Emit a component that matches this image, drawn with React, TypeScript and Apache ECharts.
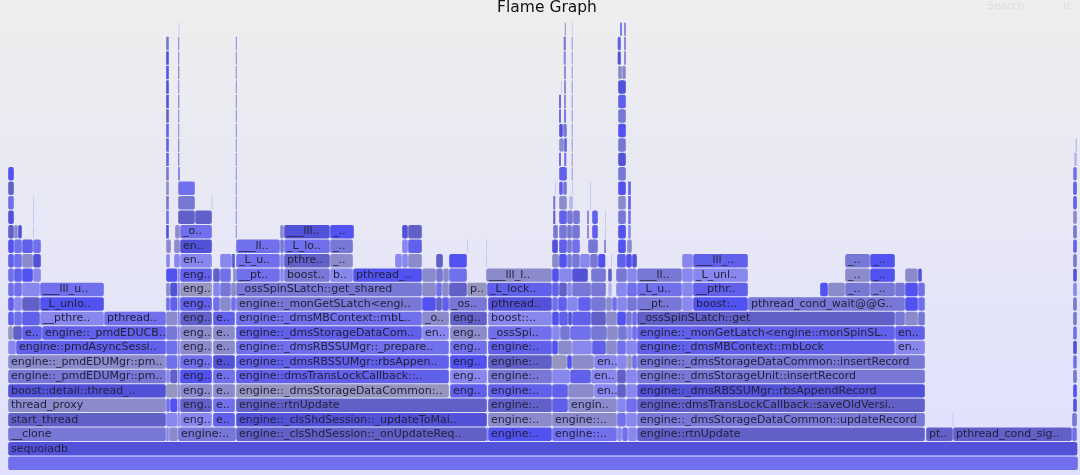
import React, { useEffect, useRef } from "react";
import * as echarts from "echarts";

type Frame = [number, number, string, string];

const palette: Record<string, string> = {
  a: "#5252f0",
  b: "#6060ea",
  c: "#7070ec",
  d: "#8787ee",
  e: "#5252d8",
  f: "#6060c8",
  g: "#7777d6",
  h: "#8b8bcc",
  i: "#9595bd",
  l: "#b4b4f2",
};

const level00: Frame[] = [[8, 1078, "", "c"]];
const level01: Frame[] = [[8, 1077.5, "sequoiadb", "e"]];
const level02: Frame[] = [
  [8, 166, "__clone", "g"], [166, 169, "", "d"], [169, 178, "", "h"], [178, 236, "engine:..", "g"],
  [236, 487, "engine::_clsShdSession::_onUpdateReq..", "f"], [487, 488, "", "a"], [488, 552, "engine:..", "a"],
  [552, 617, "engine::..", "c"], [617, 622, "", "d"], [622, 628, "", "c"], [628, 637, "", "d"],
  [637, 925, "engine::rtnUpdate", "f"], [926, 953, "pt..", "f"], [953, 1072, "pthread_cond_sig..", "f"], [1072, 1077, "", "c"],
];
const level03: Frame[] = [
  [8, 166, "start_thread", "f"], [166, 177.5, "", "d"], [177.5, 180, "", "d"], [180, 212, "eng..", "d"], [213, 235, "e..", "b"],
  [236, 487, "engine::_clsShdSession::_updateToMai..", "e"], [488, 552, "engine:..", "h"], [552, 617, "engine::..", "h"],
  [617, 626, "", "c"], [626, 637, "", "d"], [637, 925, "engine::_dmsStorageDataCommon::updateRecord", "g"],
  [952.5, 953.5, "", "l"], [1072, 1077, "", "g"],
];
const level04: Frame[] = [
  [8, 166, "thread_proxy", "h"], [166, 170, "", "c"], [170, 177.5, "", "a"], [177.5, 180, "", "d"], [180, 212, "eng..", "f"], [213, 235, "e..", "c"],
  [236, 487, "engine::rtnUpdate", "f"], [488, 552, "engine:..", "f"], [552, 568, "", "b"], [568, 617, "engin..", "h"],
  [617, 626, "", "d"], [626, 637, "", "c"], [637, 925, "engine::dmsTransLockCallback::saveOldVersi..", "f"], [1073, 1077, "", "e"],
];
const level05: Frame[] = [
  [8, 166, "boost::detail::thread_..", "e"], [166, 177.5, "", "i"], [177.5, 180, "", "h"], [180, 212, "eng..", "h"], [213, 235, "e..", "h"],
  [236, 449, "engine::_dmsStorageDataCommon:..", "i"], [450, 487, "eng..", "b"], [488, 552, "engine:..", "b"],
  [552, 568, "", "b"], [568, 594, "", "h"], [594, 617, "en..", "d"], [617, 626, "", "f"], [626, 637, "", "d"],
  [637, 925, "engine::_dmsRBSSUMgr::rbsAppendRecord", "e"], [1073, 1077, "", "a"],
];
const level06: Frame[] = [
  [8, 166, "engine::_pmdEDUMgr::pm..", "g"], [166, 170, "", "d"], [170, 177.5, "", "f"], [177.5, 180, "", "d"], [180, 212, "eng..", "a"], [213, 235, "e..", "c"],
  [236, 449, "engine::dmsTransLockCallback::..", "b"], [450, 487, "eng..", "d"], [488, 552, "engine:..", "g"],
  [552, 570, "", "d"], [570, 591, "", "b"], [591, 617, "en..", "d"], [617, 626, "", "f"], [626, 637, "", "d"],
  [637, 925, "engine::_dmsStorageUnit::insertRecord", "g"], [1073, 1077, "", "g"],
];
const level07: Frame[] = [
  [8, 166, "engine::_pmdEDUMgr::pm..", "h"], [166, 177.5, "", "c"], [177.5, 180, "", "d"], [180, 212, "eng..", "c"], [213, 235, "e..", "e"],
  [236, 449, "engine::_dmsRBSSUMgr::rbsAppen..", "b"], [450, 487, "eng..", "a"], [488, 552, "engine:..", "f"],
  [552, 567, "", "i"], [567, 572, "", "a"], [572, 594, "", "h"], [594, 617, "en..", "d"], [617, 627, "", "d"], [627, 632, "", "i"], [632, 637, "", "c"],
  [637, 925, "engine::_dmsStorageDataCommon::insertRecord", "g"], [1073, 1077, "", "c"],
];
const level08: Frame[] = [
  [8, 16, "", "d"], [16, 166, "engine::pmdAsyncSessi..", "b"], [166, 177.5, "", "c"], [177.5, 180, "", "d"], [180, 212, "eng..", "h"], [213, 235, "e..", "h"],
  [236, 449, "engine::_dmsRBSSUMgr::_prepare..", "c"], [450, 487, "eng..", "c"], [488, 552, "engine:..", "b"],
  [552, 558, "", "a"], [558, 572, "", "h"], [572, 592, "", "d"], [592, 606, "", "b"], [606, 617, "", "h"], [617, 626, "", "c"], [626, 637, "", "d"],
  [637, 895, "engine::_dmsMBContext::mbLock", "b"], [895, 925, "en..", "d"], [1073, 1077, "", "e"],
];
const level09: Frame[] = [
  [8, 13, "", "i"], [13, 22, "", "f"], [22, 42, "e..", "b"], [42, 166, "engine::_pmdEDUCB..", "b"], [166, 177.5, "", "g"], [177.5, 180, "", "d"], [180, 212, "eng..", "h"], [213, 235, "e..", "h"],
  [236, 422, "engine::_dmsStorageDataCom..", "b"], [422, 449, "en..", "d"], [450, 487, "eng..", "h"], [488, 552, "_ossSpi..", "c"],
  [552, 560, "", "d"], [560, 570, "", "g"], [570, 591, "", "c"], [591, 607, "", "g"], [607, 618, "", "h"], [618, 627, "", "g"], [627, 632, "", "d"], [632, 637, "", "c"],
  [637, 895, "engine::_monGetLatch<engine::monSpinSL..", "b"], [895, 925, "en..", "b"], [1073, 1077, "", "c"],
];
const level10: Frame[] = [
  [8, 14, "", "b"], [14, 22, "", "c"], [22, 40, "", "b"], [40, 104, "__pthre..", "d"], [104, 166, "pthread..", "c"], [166, 177.5, "", "h"], [177.5, 180, "", "d"], [180, 212, "eng..", "f"], [213, 235, "e..", "b"],
  [236, 422, "engine::_dmsMBContext::mbL..", "c"], [422, 449, "_o..", "h"], [450, 487, "eng..", "f"], [488, 552, "boost::..", "d"],
  [552, 559, "", "a"], [559, 568, "", "b"], [568, 572, "", "e"], [572, 591, "", "b"], [591, 606, "", "f"], [606, 617, "", "h"], [617, 626, "", "a"], [626, 632, "", "g"], [632, 637, "", "c"],
  [637, 895, "_ossSpinSLatch::get", "f"], [895, 905, "", "g"], [905, 918, "", "h"], [918, 925, "", "g"], [1073, 1077, "", "g"],
];
const level11: Frame[] = [
  [8, 14, "", "b"], [14, 22, "", "d"], [22, 40, "", "f"], [40, 104, "_L_unlo..", "a"], [166, 170, "", "c"], [170, 177.5, "", "b"], [177.5, 180, "", "d"], [180, 212, "eng..", "b"], [213, 220, "", "c"], [220, 231, "", "h"], [231, 236, "", "c"],
  [236, 422, "engine::_monGetSLatch<engi..", "g"], [422, 436, "", "a"], [436, 442, "", "f"], [442, 449, "", "b"], [449, 487, "_os..", "g"], [488, 552, "pthread..", "e"],
  [552, 558, "", "c"], [558, 567, "", "b"], [567, 578, "", "d"], [578, 591, "", "b"], [591, 606, "", "g"], [606, 612, "", "h"], [612, 617, "", "c"], [617, 627, "", "d"], [627, 637, "", "g"],
  [637, 682, "__pt..", "g"], [682, 693, "", "d"], [693, 748, "boost:..", "a"], [748, 905, "pthread_cond_wait@@G..", "g"], [905, 918, "", "a"], [918, 925, "", "c"], [1073, 1077, "", "g"],
];
const level12: Frame[] = [
  [8, 14, "", "c"], [14, 22, "", "c"], [22, 40, "", "d"], [40, 104, "___lll_u..", "c"], [166, 170, "", "h"], [170, 177.5, "", "e"], [177.5, 180, "", "d"], [180, 212, "eng..", "i"], [213, 220, "", "d"], [220, 231, "", "g"], [231, 236, "", "h"],
  [236, 422, "_ossSpinSLatch::get_shared", "g"], [422, 436, "", "h"], [436, 442, "", "c"], [442, 449, "", "h"], [449, 467, "", "f"], [467, 487, "p..", "i"], [487, 552, "_L_lock..", "b"],
  [552, 559, "", "b"], [559, 567, "", "f"], [567, 572, "", "d"], [572, 591, "", "g"], [591, 606, "", "g"], [608, 612, "", "l"], [616, 627, "", "d"], [627, 637, "", "c"],
  [637, 682, "_L_u..", "c"], [682, 693, "", "d"], [693, 748, "__pthr..", "b"], [820, 828, "", "a"], [828, 845, "", "h"], [845, 870, "_..", "g"], [870, 895, "_..", "g"], [895, 905, "", "g"], [905, 918, "", "a"], [918, 925, "", "c"], [1073, 1077, "", "d"],
];
const level13: Frame[] = [
  [8, 14, "", "c"], [14, 22, "", "b"], [22, 33, "", "a"], [33, 41, "", "d"], [166, 177.5, "", "a"], [177.5, 180, "", "d"], [180, 212, "eng..", "b"], [213, 220, "", "f"], [220, 231, "", "c"], [233, 236, "", "h"],
  [236, 280, "__pt..", "c"], [280, 284, "", "d"], [284, 330, "boost..", "g"], [330, 353, "b..", "d"], [353, 422, "pthread_..", "a"], [422, 436, "", "h"], [436, 443, "", "g"], [443, 449, "", "h"], [449, 467, "", "c"], [486, 552, "___lll_l..", "h"],
  [552, 559, "", "a"], [559, 572, "", "d"], [572, 588, "", "e"], [591, 606, "", "g"], [608, 612, "", "f"], [616, 627, "", "g"], [627, 637, "", "d"],
  [637, 682, "___ll..", "g"], [682, 693, "", "d"], [693, 748, "_L_unl..", "d"], [845, 870, "_..", "h"], [870, 895, "_..", "a"], [905, 918, "", "h"], [918, 922, "", "e"], [1073, 1077, "", "e"],
];
const level14: Frame[] = [
  [8, 14, "", "b"], [14, 22, "", "c"], [22, 33, "", "h"], [33, 41, "", "e"], [166, 170, "", "d"], [174, 180, "", "d"], [180, 212, "en..", "d"], [220, 232, "", "d"], [232, 235, "", "e"],
  [236, 280, "_L_u..", "c"], [280, 284, "", "d"], [284, 330, "pthre..", "f"], [330, 353, "_..", "h"], [395, 402, "", "d"], [402, 408, "", "d"], [408, 422, "", "h"], [436, 443, "", "f"], [449, 467, "", "a"],
  [486, 487, "", "l"], [552, 559, "", "h"], [559, 567, "", "a"], [567, 572, "", "g"], [572, 580, "", "g"], [580, 590, "", "d"], [590, 598, "", "g"], [598, 605.5, "", "a"], [611, 612, "", "l"], [617, 626, "", "b"], [626, 632, "", "a"], [632, 637, "", "e"],
  [682, 693, "", "d"], [693, 748, "___lll_..", "b"], [845, 870, "_..", "g"], [870, 895, "_..", "a"], [1073, 1077, "", "g"],
];
const level15: Frame[] = [
  [8, 14, "", "a"], [14, 22, "", "c"], [22, 33, "", "b"], [33, 41, "", "c"], [166, 171, "", "h"], [174, 180, "", "h"], [180, 212, "en..", "e"],
  [236, 280, "___ll..", "c"], [280, 284, "", "g"], [284, 330, "_L_lo..", "c"], [330, 353, "_..", "g"], [402, 408, "", "d"], [408, 422, "", "b"], [467, 468, "", "l"],
  [486, 487, "", "l"], [552, 558, "", "e"], [559, 567, "", "b"], [567, 572, "", "g"], [572, 580, "", "c"], [588, 598, "", "g"], [604, 606, "", "g"], [618, 626, "", "a"], [627, 632, "", "h"], [1073, 1077, "", "b"],
];
const level16: Frame[] = [
  [8, 14, "", "f"], [14, 18, "", "h"], [18, 22, "", "e"], [33, 34, "", "l"], [166, 169, "", "e"], [175, 180, "", "h"], [180, 212, "_o..", "c"], [235.6, 237, "", "d"],
  [280, 284, "", "h"], [284, 330, "___lll..", "e"], [330, 354, "_..", "a"], [402, 408, "", "e"], [408, 422, "", "f"],
  [553, 558, "", "g"], [559, 567, "", "g"], [567, 572, "", "g"], [572, 580, "", "g"], [587, 589, "", "g"], [592, 598, "", "b"], [605, 606, "", "l"], [618, 626, "", "a"], [628, 631, "", "d"], [1073, 1077, "", "g"],
];
const level17: Frame[] = [
  [8, 14, "", "e"], [33, 34, "", "l"], [166, 169, "", "c"], [178, 195, "", "f"], [195, 212, "", "f"], [235.6, 237, "", "d"],
  [553, 555.5, "", "f"], [559, 567, "", "b"], [567, 573, "", "g"], [573, 580, "", "g"], [587, 589, "", "g"], [592, 598, "", "b"], [605, 606, "", "l"], [618, 626, "", "g"], [628, 631, "", "c"], [1073, 1077, "", "h"],
];
const level18: Frame[] = [
  [8, 14, "", "c"], [33, 34, "", "l"], [166, 169, "", "g"], [178, 195, "", "g"], [211.5, 212.5, "", "l"], [235.6, 237, "", "d"],
  [553, 555.5, "", "g"], [559, 567, "", "h"], [569, 573, "", "l"], [590, 591, "", "l"], [618, 626, "", "h"], [628, 631, "", "b"], [1073, 1077, "", "b"],
];
const level19: Frame[] = [
  [8, 14, "", "f"], [166, 169, "", "h"], [178, 195, "", "c"], [235.6, 237, "", "d"],
  [555, 556, "", "l"], [559, 563, "", "b"], [563, 567, "", "g"], [572, 573, "", "l"], [590, 591, "", "l"], [618, 626, "", "a"], [628, 631, "", "b"], [1073, 1077, "", "b"],
];
const level20: Frame[] = [
  [8, 14, "", "a"], [166, 169, "", "g"], [178, 180, "", "c"], [235.6, 237, "", "d"],
  [559, 567, "", "b"], [571.5, 572.8, "", "d"], [618, 626, "", "g"], [1073, 1077, "", "c"],
];
const level21: Frame[] = [
  [166, 169, "", "b"], [178, 179.5, "", "c"], [235.6, 237, "", "d"],
  [559, 561, "", "e"], [564, 566.5, "", "c"], [571.5, 572.8, "", "d"], [618, 626, "", "e"], [1074, 1077, "", "l"],
];
const level22: Frame[] = [
  [166, 169, "", "b"], [178, 179.5, "", "g"], [235.6, 237, "", "d"],
  [559, 564, "", "h"], [564, 567, "", "b"], [571.5, 572.8, "", "d"], [618, 626, "", "g"], [1075.5, 1077, "", "l"],
];
const level23: Frame[] = [
  [166, 169, "", "b"], [178, 179.5, "", "d"], [235.6, 237, "", "d"],
  [559, 563, "", "e"], [563, 567, "", "g"], [571.5, 572.8, "", "d"], [618, 626, "", "a"],
];
const level24: Frame[] = [
  [166, 169, "", "f"], [178, 179.5, "", "d"], [235.6, 237, "", "d"],
  [559, 561, "", "e"], [564, 566, "", "b"], [571.5, 572.8, "", "d"], [618, 626, "", "g"],
];
const level25: Frame[] = [
  [166, 169, "", "e"], [178, 179.5, "", "g"], [235.6, 237, "", "h"],
  [559, 561, "", "e"], [564, 566, "", "g"], [571.5, 572.8, "", "d"], [618, 626, "", "b"],
];
const level26: Frame[] = [
  [166, 169, "", "e"], [178, 179.5, "", "d"], [235.6, 237, "", "d"],
  [561, 562, "", "l"], [564, 566, "", "g"], [571.5, 572.8, "", "d"], [618, 626, "", "e"],
];
const level27: Frame[] = [
  [166, 169, "", "a"], [178, 179.5, "", "g"], [235.6, 237, "", "d"],
  [564, 566, "", "g"], [571.5, 572.8, "", "d"], [618, 622, "", "h"], [622, 626, "", "h"],
];
const level28: Frame[] = [
  [166, 169, "", "e"], [178, 179.5, "", "d"], [235.6, 237, "", "d"],
  [563.5, 566, "", "d"], [571.5, 572.8, "", "d"], [617.5, 621, "", "e"], [624, 626, "", "g"],
];
const level29: Frame[] = [
  [166, 169, "", "g"], [178, 179.5, "", "d"], [235.6, 237, "", "d"],
  [563.5, 566, "", "g"], [571.5, 572.8, "", "d"], [617.5, 621, "", "b"], [624, 626, "", "g"],
];
const level30: Frame[] = [
  [178.5, 179.5, "", "l"], [564.6, 566, "", "h"], [571.7, 572.7, "", "l"], [620, 622, "", "b"], [624, 626, "", "g"],
];

const levels = [
  level00, level01, level02, level03, level04, level05, level06, level07, level08, level09, level10,
  level11, level12, level13, level14, level15, level16, level17, level18, level19, level20,
  level21, level22, level23, level24, level25, level26, level27, level28, level29, level30,
];

const titleText = "Flame Graph";
const searchText = "Search";
const icText = "ic";
const FONT = '"DejaVu Sans", Verdana, sans-serif';

export default function App() {
  const ref = useRef<HTMLDivElement>(null);
  useEffect(() => {
    document.body.style.margin = "0";
    const chart = echarts.init(ref.current!, undefined, { renderer: "svg" });
    const flat: { level: number; frame: Frame }[] = [];
    levels.forEach((row, level) => row.forEach((frame) => flat.push({ level, frame })));
    chart.setOption({
      animation: false,
      backgroundColor: new echarts.graphic.LinearGradient(0, 0, 0, 1, [
        { offset: 0, color: "#eeeeee" },
        { offset: 1, color: "#e0e0ff" },
      ]),
      title: {
        text: titleText,
        left: 542,
        top: -6,
        textAlign: "center",
        textStyle: { fontFamily: FONT, fontSize: 15.5, fontWeight: "normal", color: "#111111" },
      },
      graphic: [
        { type: "text", x: 987, y: 0, style: { text: searchText, font: `11px ${FONT}`, fill: "#dedede" } },
        { type: "text", x: 1063, y: 0, style: { text: icText, font: `11px ${FONT}`, fill: "#dedede" } },
      ],
      grid: { left: 0, right: 0, top: 21.9, bottom: 4.53 },
      xAxis: { type: "value", min: 0, max: 1080, show: false },
      yAxis: { type: "value", min: 0, max: 31, show: false },
      series: [
        {
          type: "custom",
          silent: true,
          clip: false,
          encode: { x: [0, 1], y: 2 },
          data: flat.map((d) => [d.frame[0], d.frame[1], d.level]),
          renderItem: (params: any, api: any) => {
            const { frame } = flat[params.dataIndex];
            const p0 = api.coord([api.value(0), api.value(2)]);
            const p1 = api.coord([api.value(1), api.value(2) + 1]);
            const x = p0[0] + 0.2;
            const w = Math.max(p1[0] - p0[0] - 0.4, 0.6);
            const y = p1[1] + 0.5;
            const h = p0[1] - p1[1] - 1;
            const children: any[] = [
              {
                type: "rect",
                shape: { x, y, width: w, height: h, r: w > 3 ? 2 : 0.5 },
                style: { fill: palette[frame[3]] },
              },
            ];
            if (frame[2]) {
              children.push({
                type: "text",
                style: {
                  text: frame[2],
                  x: p0[0] + 3,
                  y: y + 6,
                  verticalAlign: "middle",
                  font: `11px ${FONT}`,
                  fill: "#22223e",
                },
              });
            }
            return { type: "group", children };
          },
        },
      ],
    });
    return () => chart.dispose();
  }, []);
  return <div ref={ref} style={{ width: 1080, height: 475, filter: "blur(0.4px)" }} />;
}
